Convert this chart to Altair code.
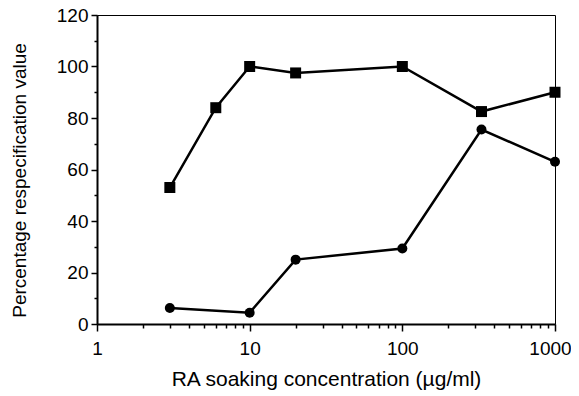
import altair as alt
import pandas as pd

# Data
conc_sq = [3, 6, 10, 20, 100, 330, 1000]
val_sq = [53, 84, 100, 97.5, 100, 82.5, 90]
conc_ci = [3, 10, 20, 100, 330, 1000]
val_ci = [6.2, 4.4, 25, 29.3, 75.5, 63]

x_ticks = [1, 2, 3, 4, 5, 6, 7, 8, 9, 10, 20, 30, 40, 50, 60, 70, 80, 90,
           100, 200, 300, 400, 500, 600, 700, 800, 900, 1000]
y_ticks = list(range(0, 121, 10))

df = pd.DataFrame(
    {"conc": conc_sq + conc_ci,
     "val": val_sq + val_ci,
     "series": ["A"] * len(conc_sq) + ["B"] * len(conc_ci)}
)

FONT = "Liberation Sans"

x = alt.X(
    "conc:Q",
    scale=alt.Scale(type="log", domain=[1, 1000], nice=False),
    axis=alt.Axis(
        title="RA soaking concentration (µg/ml)",
        values=x_ticks,
        labelExpr="indexof([1,10,100,1000], datum.value) >= 0 ? format(datum.value, 'd') : ''",
        tickSize={"condition": {"test": "indexof([1,10,100,1000], datum.value) >= 0", "value": 7}, "value": 4},
        labelOffset={"condition": {"test": "datum.value == 1000", "value": -5}, "value": 0},
        grid=False,
        domainColor="black", domainWidth=2,
        tickColor="black", tickWidth=1.5,
        labelFontSize=19, titleFontSize=21,
        labelColor="black", titleColor="black",
        labelFont=FONT, titleFont=FONT, titleFontWeight="normal",
        labelPadding=8, titlePadding=10, labelFlush=False,
    ),
)
y = alt.Y(
    "val:Q",
    scale=alt.Scale(domain=[0, 120], nice=False),
    axis=alt.Axis(
        title="Percentage respecification value",
        values=y_ticks,
        labelExpr="datum.value % 20 == 0 ? format(datum.value, 'd') : ''",
        tickSize={"condition": {"test": "datum.value % 20 == 0", "value": 6}, "value": 3},
        grid=False,
        domainColor="black", domainWidth=2,
        tickColor="black", tickWidth=1.5,
        labelFontSize=19, titleFontSize=19,
        labelColor="black", titleColor="black",
        labelFont=FONT, titleFont=FONT, titleFontWeight="normal",
        labelPadding=3, titleX=-72, titleY=165, titleAlign="center",
        titleBaseline="alphabetic", titleAngle=270,
    ),
)

base = alt.Chart(df)
lines = base.mark_line(color="black", strokeWidth=2.5).encode(x=x, y=y, detail="series:N")
points = base.mark_point(filled=True, opacity=1, color="black").encode(
    x=x, y=y,
    shape=alt.Shape("series:N", scale=alt.Scale(domain=["A", "B"], range=["square", "circle"]), legend=None),
    size=alt.Size("series:N", scale=alt.Scale(domain=["A", "B"], range=[121, 100]), legend=None),
)

chart = (lines + points).properties(
    width=458, height=309,
    autosize=alt.AutoSizeParams(type="none"),
    padding={"left": 89, "top": 7, "right": 16, "bottom": 73},
).configure_view(stroke="black", strokeWidth=1)

chart.save("out.html", embed_options={"renderer": "svg", "actions": False})
